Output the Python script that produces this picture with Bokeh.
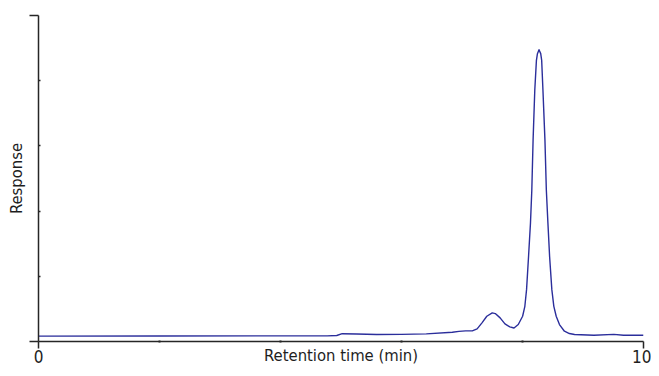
from bokeh.plotting import figure
from bokeh.models import FixedTicker, Range1d
from bokeh.embed import file_html
from bokeh.resources import INLINE

# Retention time (min) and detector response (relative units, axis 0..100)
time_min = [0.0, 2.0, 4.0, 4.77, 4.93, 5.02, 5.26, 5.59, 6.0, 6.41, 6.84, 6.95, 7.06,
            7.17, 7.25, 7.33, 7.41, 7.50, 7.55, 7.63, 7.71, 7.79, 7.86, 7.93, 8.002,
            8.039, 8.067, 8.100, 8.132, 8.154, 8.175, 8.203, 8.230, 8.247, 8.273,
            8.301, 8.317, 8.338, 8.371, 8.394, 8.420, 8.448, 8.485, 8.518, 8.557,
            8.611, 8.693, 8.775, 8.86, 9.18, 9.51, 9.67, 10.0]
response = [1.65, 1.68, 1.72, 1.74, 1.83, 2.39, 2.29, 2.14, 2.2, 2.35, 2.84, 3.12, 3.27,
            3.27, 3.88, 5.72, 7.74, 8.78, 8.56, 7.25, 5.41, 4.5, 4.15, 5.20, 7.74,
            10.80, 15.90, 26.09, 36.39, 46.48, 61.77, 77.06, 86.24, 88.3, 89.51,
            88.3, 86.24, 77.06, 61.77, 46.48, 36.39, 26.09, 15.90, 10.80, 7.74,
            5.20, 3.15, 2.45, 2.14, 1.93, 2.2, 1.93, 1.93]

x_major_ticks = [0, 10]
x_minor_ticks = [2, 4, 6, 8]
y_major_ticks = [0, 100]
y_minor_ticks = [20, 40, 60, 80]

FONT = "DejaVu Sans Condensed"
AXIS_COLOR = "#262626"
TEXT_COLOR = "#1e1e1e"

p = figure(width=651, height=368, output_backend="svg", toolbar_location=None,
           x_range=Range1d(0, 10), y_range=Range1d(0, 100),
           min_border_left=38, min_border_right=8, min_border_top=15, min_border_bottom=27)
p.outline_line_color = None
p.grid.visible = False
p.background_fill_color = "white"

p.line(time_min, response, line_color="#2b2e9b", line_width=1.4, line_join="round")

xa = p.xaxis[0]
xa.ticker = FixedTicker(ticks=x_major_ticks, minor_ticks=x_minor_ticks)
xa.axis_label = "Retention time (min)"
xa.axis_label_text_font = FONT
xa.axis_label_text_font_size = "16.5px"
xa.axis_label_text_font_style = "normal"
xa.axis_label_text_color = TEXT_COLOR
xa.axis_label_standoff = -20
xa.major_label_text_font = FONT
xa.major_label_text_font_size = "17px"
xa.major_label_text_color = TEXT_COLOR
xa.major_label_standoff = 1
xa.axis_line_color = AXIS_COLOR
xa.axis_line_width = 1.5
xa.major_tick_line_color = AXIS_COLOR
xa.major_tick_line_width = 1.5
xa.major_tick_out = 7
xa.major_tick_in = 0
xa.minor_tick_line_color = AXIS_COLOR
xa.minor_tick_line_width = 2
xa.minor_tick_out = 1
xa.minor_tick_in = 1

ya = p.yaxis[0]
ya.ticker = FixedTicker(ticks=y_major_ticks, minor_ticks=y_minor_ticks)
ya.major_label_overrides = {0: "", 100: ""}
ya.major_label_standoff = 0
ya.axis_label = "Response"
ya.axis_label_text_font = FONT
ya.axis_label_text_font_size = "16.5px"
ya.axis_label_text_font_style = "normal"
ya.axis_label_text_color = TEXT_COLOR
ya.axis_label_standoff = 4
ya.axis_line_color = AXIS_COLOR
ya.axis_line_width = 1.5
ya.major_tick_line_color = AXIS_COLOR
ya.major_tick_line_width = 1.5
ya.major_tick_out = 9
ya.major_tick_in = 0
ya.minor_tick_line_color = AXIS_COLOR
ya.minor_tick_line_width = 1.5
ya.minor_tick_out = 0
ya.minor_tick_in = 2

open("out.html", "w").write(file_html(p, INLINE))
